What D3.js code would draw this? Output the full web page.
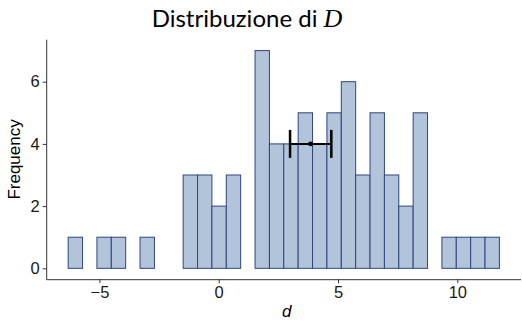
<!DOCTYPE html>
<html>
<head>
<meta charset="utf-8">
<script src="https://cdn.jsdelivr.net/npm/d3@7"></script>
<style>
  html, body { margin: 0; padding: 0; background: #ffffff; }
  svg { display: block; }
</style>
</head>
<body>
<svg id="chart" width="522" height="322"></svg>
<script>
// ---- data ----
const binEdges = [-6.31, -5.7075, -5.105, -4.5025, -3.90, -3.2975, -2.695, -2.0925, -1.49, -0.8875,
                  -0.285, 0.3175, 0.92, 1.5225, 2.125, 2.7275, 3.33, 3.9325, 4.535, 5.1375,
                  5.74, 6.3425, 6.945, 7.5475, 8.15, 8.7525, 9.355, 9.9575, 10.56, 11.1625, 11.765];
const counts = [1, 0, 1, 1, 0, 1, 0, 0, 3, 3,
                2, 3, 0, 7, 4, 4, 5, 4, 5, 6,
                3, 5, 3, 2, 5, 0, 1, 1, 1, 1];
const xTicks = [-5, 0, 5, 10];
const yTicks = [0, 2, 4, 6];
const errMean = [3.85];
const errLow = [2.99];
const errHigh = [4.72];
const errY = [4];

const bins = counts.map((c, i) => ({ x0: binEdges[i], x1: binEdges[i + 1], n: c }));

const svg = d3.select("#chart");
const panel = { left: 46.7, right: 521, top: 39.7, bottom: 279.2 };

const x = d3.scaleLinear().domain([-7.21, 12.67]).range([panel.left, panel.right]);
const y = d3.scaleLinear().domain([-0.35, 7.35]).range([panel.bottom, panel.top]);

// bars
svg.append("g").selectAll("rect").data(bins).join("rect")
  .attr("x", d => x(d.x0))
  .attr("width", d => x(d.x1) - x(d.x0))
  .attr("y", d => y(d.n))
  .attr("height", d => y(0) - y(d.n))
  .attr("fill", "#b2c4d9")
  .attr("stroke", "#2e4580")
  .attr("stroke-width", 1);

// error bar
const eb = svg.append("g");
eb.append("line")
  .attr("x1", x(errLow[0])).attr("x2", x(errHigh[0]))
  .attr("y1", y(errY[0])).attr("y2", y(errY[0]))
  .attr("stroke", "#000").attr("stroke-width", 2);
[errLow[0], errHigh[0]].forEach(v => {
  eb.append("line")
    .attr("x1", x(v)).attr("x2", x(v))
    .attr("y1", y(errY[0] + 0.45)).attr("y2", y(errY[0] - 0.45))
    .attr("stroke", "#000").attr("stroke-width", 2.5);
});
eb.append("circle").attr("cx", x(errMean[0])).attr("cy", y(errY[0])).attr("r", 2.4).attr("fill", "#000");

// axes
const xAxis = d3.axisBottom(x).tickValues(xTicks).tickSizeOuter(0).tickSizeInner(4).tickPadding(3)
  .tickFormat(d => d < 0 ? "\u2212" + Math.abs(d) : d);
const yAxis = d3.axisLeft(y).tickValues(yTicks).tickSizeOuter(0).tickSizeInner(4).tickPadding(3);

const gx = svg.append("g").attr("transform", `translate(0,${panel.bottom})`).call(xAxis);
gx.select(".domain").attr("d", `M${panel.left},0.5H${panel.right}`).attr("stroke", "#333");
const gy = svg.append("g").attr("transform", `translate(${panel.left},0)`).call(yAxis);
gy.select(".domain").attr("d", `M0,${panel.top}V${panel.bottom + 0.5}`).attr("stroke", "#333");

[gx, gy].forEach(g => {
  g.selectAll(".tick line").attr("stroke", "#333");
  g.selectAll(".tick text").attr("fill", "#1a1a1a")
    .style("font-family", "'Liberation Sans', Arial, sans-serif").style("font-size", "16.5px");
});

// axis titles
svg.append("text")
  .attr("x", (panel.left + panel.right) / 2 + 3).attr("y", 317)
  .attr("text-anchor", "middle")
  .style("font-family", "'Liberation Sans', Arial, sans-serif")
  .style("font-style", "italic").style("font-size", "17px")
  .text("d");

svg.append("text")
  .attr("transform", `translate(20,${(panel.top + panel.bottom) / 2}) rotate(-90)`)
  .attr("text-anchor", "middle")
  .style("font-family", "'Liberation Sans', Arial, sans-serif")
  .style("font-size", "17px")
  .text("Frequency");

// title
const title = svg.append("text")
  .attr("x", 151.7).attr("y", 27)
  .attr("fill", "#000")
  .style("font-size", "24px");
title.append("tspan")
  .style("font-family", "Lato, 'DejaVu Sans', sans-serif")
  .text("Distribuzione di ");
title.append("tspan")
  .style("font-family", "'Liberation Serif', 'DejaVu Serif', serif")
  .style("font-style", "italic")
  .style("font-size", "26px")
  .text("D");
</script>
</body>
</html>
